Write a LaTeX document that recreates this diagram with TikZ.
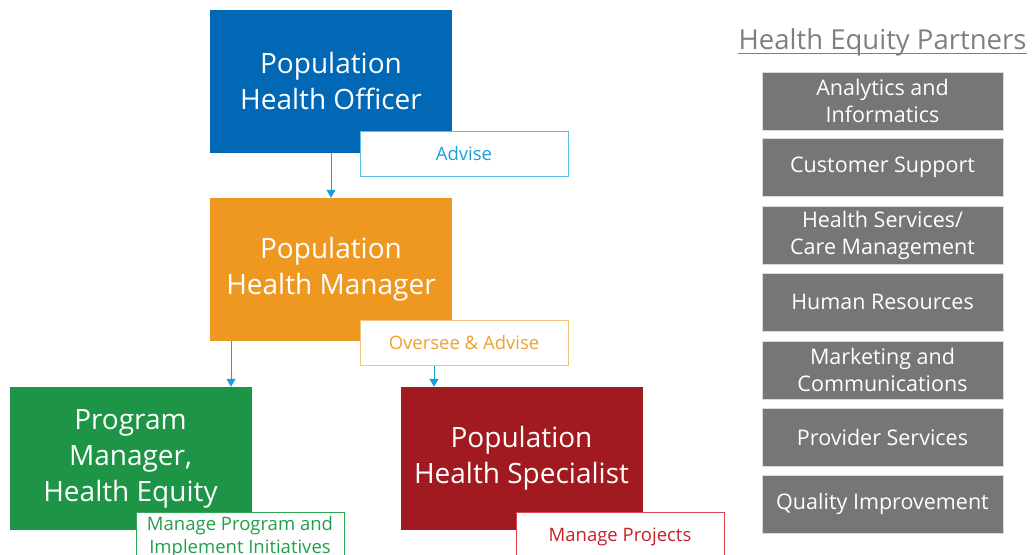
\documentclass[tikz,border=0pt]{standalone}
\usepackage{fontspec}
\setmainfont{Open Sans}
\usetikzlibrary{arrows.meta}
\definecolor{cBlue}{HTML}{0068B4}
\definecolor{cOrange}{HTML}{EE9821}
\definecolor{cGreen}{HTML}{1E9446}
\definecolor{cRed}{HTML}{A11A1F}
\definecolor{cGray}{HTML}{767676}
\definecolor{cGrayB}{HTML}{D9D9D9}
\definecolor{cTitle}{HTML}{7F7F7F}
\definecolor{lBlueT}{HTML}{1B9FDB}
\definecolor{lBlueB}{HTML}{5BBDE8}
\definecolor{lOrT}{HTML}{F0A030}
\definecolor{lOrB}{HTML}{F5C27A}
\definecolor{lGrT}{HTML}{21A04A}
\definecolor{lGrB}{HTML}{34A85A}
\definecolor{lRdT}{HTML}{C8202A}
\definecolor{lRdB}{HTML}{D9464E}
\definecolor{cArrow}{HTML}{1B9FDB}
\tikzset{
  rolebox/.style={fill=#1, draw=none, minimum width=242pt, minimum height=143pt, inner sep=0pt,
    text=white, align=center, font=\fontsize{28}{36}\selectfont},
  tagbox/.style={fill=white, draw=#1, line width=1pt, minimum width=208pt, minimum height=45pt, inner sep=0pt,
    align=center, font=\fontsize{18.5}{23}\selectfont},
  partner/.style={fill=cGray, draw=cGrayB, line width=1pt, minimum width=241pt, minimum height=58pt, inner sep=0pt,
    text=white, align=center, font=\fontsize{21.5}{27}\selectfont},
  conn/.style={draw=cArrow, line width=1pt, -{Triangle[width=9pt,length=8pt]}},
}
\begin{document}
\begin{tikzpicture}[x=1pt,y=-1pt]
\useasboundingbox (0,0) rectangle (1032,554);
\clip (0,0) rectangle (1032,554);
% role boxes
\node[rolebox=cBlue] (off) at (331,81) {Population\\Health Officer};
\node[tagbox=lBlueB, text=lBlueT] (adv) at (464,153.5) {Advise};
\node[rolebox=cOrange] (mgr) at (331,269.5) {Population\\Health Manager};
\node[tagbox=lOrB, text=lOrT] (ova) at (464,342.5) {Oversee \& Advise};
\node[rolebox=cGreen] (pm) at (130.5,458.5) {Program\\Manager,\\Health Equity};
\node[rolebox=cRed] (phs) at (521.5,458.5) {Population\\Health Specialist};
\node[tagbox=lGrB, text=lGrT, minimum height=50pt] (mpi) at (240,537) {Manage Program and\\Implement Initiatives};
\node[tagbox=lRdB, text=lRdT, minimum height=50pt] (mpr) at (620,537) {Manage Projects};
% connectors
\draw[conn] (off.south) -- (mgr.north);
\draw[conn] (mgr.south -| 231,0) -- (pm.north -| 231,0);
\draw[conn] (ova.south -| 434,0) -- (phs.north -| 434,0);
% partners
\node[text=cTitle, font=\fontsize{27.5}{32}\selectfont, inner sep=0pt, anchor=base] (title) at (882.5,49) {Health Equity Partners};
\draw[cTitle, line width=1pt] ([yshift=-4pt]title.base west) -- ([yshift=-4pt]title.base east);
\node[partner] (p1) at (882.5,101) {Analytics and\\Informatics};
\node[partner] (p2) at (882.5,167.5) {Customer Support};
\node[partner] (p3) at (882.5,235) {Health Services/\\Care Management};
\node[partner] (p4) at (882.5,302) {Human Resources};
\node[partner] (p5) at (882.5,370) {Marketing and\\Communications};
\node[partner] (p6) at (882.5,437) {Provider Services};
\node[partner] (p7) at (882.5,504) {Quality Improvement};
\end{tikzpicture}
\end{document}
